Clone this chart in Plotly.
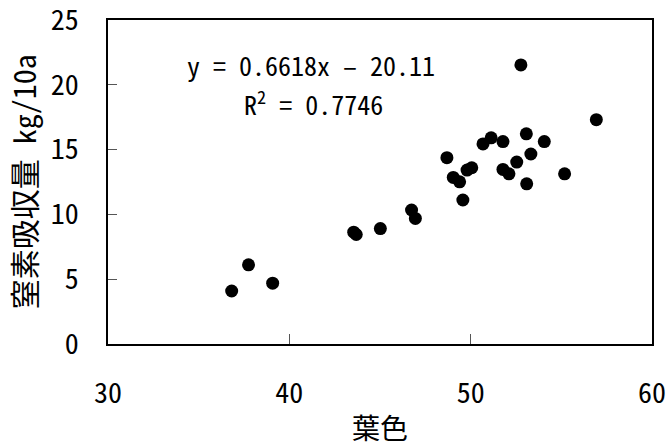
import plotly.graph_objects as go

leaf_color = [36.82, 37.75, 39.08, 43.55, 43.69, 45.02, 46.74, 46.95, 48.69, 49.04,
              49.39, 49.57, 49.80, 50.06, 50.68, 51.13, 51.78, 51.78, 52.11, 52.54,
              52.77, 53.07, 53.09, 53.32, 54.06, 55.18, 56.93]
n_uptake = [4.09, 6.11, 4.69, 8.63, 8.45, 8.91, 10.34, 9.69, 14.38, 12.85,
            12.51, 11.11, 13.42, 13.60, 15.44, 15.91, 15.62, 13.47, 13.13, 14.04,
            21.53, 16.22, 12.36, 14.66, 15.62, 13.13, 17.31]
x_ticks = [30, 40, 50, 60]
y_ticks = [0, 5, 10, 15, 20, 25]
eq_text = "y = 0.6618x \u2013 20.11"
r2_text = "R<sup>2</sup> = 0.7746"
x_title = "葉色"
y_title = "窒素吸収量 kg/10a"

FONT = "Noto Sans Mono CJK JP, Noto Sans CJK JP, DejaVu Sans Mono, monospace"

fig = go.Figure()
fig.add_trace(go.Scatter(x=leaf_color, y=n_uptake, mode="markers",
                         marker=dict(color="black", size=13, symbol="circle"),
                         showlegend=False, hoverinfo="skip"))

axis_common = dict(showline=True, mirror=True, linecolor="black", linewidth=1.5,
                   ticks="inside", tickcolor="#555555", tickwidth=1,
                   showgrid=False, zeroline=False, automargin=False,
                   ticklabeloverflow="allow",
                   tickfont=dict(family=FONT, size=28, color="black"))

fig.update_xaxes(range=[30, 60], tickvals=x_ticks, ticklen=10,
                 ticklabelstandoff=24, **axis_common)
fig.update_yaxes(range=[0, 25], tickvals=y_ticks, ticklen=9,
                 ticklabelstandoff=22, **axis_common)

fig.add_annotation(x=41.2, y=21.55, xref="x", yref="y", text=eq_text, showarrow=False,
                   xanchor="center", yanchor="middle",
                   font=dict(family=FONT, size=26, color="black"))
fig.add_annotation(x=41.35, y=18.65, xref="x", yref="y", text=r2_text, showarrow=False,
                   xanchor="center", yanchor="middle",
                   font=dict(family=FONT, size=26, color="black"))
fig.add_annotation(x=0.5, y=-0.256, xref="paper", yref="paper", text=x_title,
                   showarrow=False, xanchor="center", yanchor="middle",
                   font=dict(family=FONT, size=28, color="black"))
fig.add_annotation(x=-0.156, y=0.5, xref="paper", yref="paper", text=y_title,
                   showarrow=False, xanchor="center", yanchor="middle", textangle=-90,
                   font=dict(family=FONT, size=30, color="black"))

fig.update_layout(width=667, height=445,
                  margin=dict(l=108, r=15, t=20, b=101, autoexpand=False),
                  paper_bgcolor="white", plot_bgcolor="white")

# remove the page's default body margin so the figure fills the window exactly
fig.write_html("out.html", config={"displayModeBar": False},
               post_script="document.body.style.margin='0';")
